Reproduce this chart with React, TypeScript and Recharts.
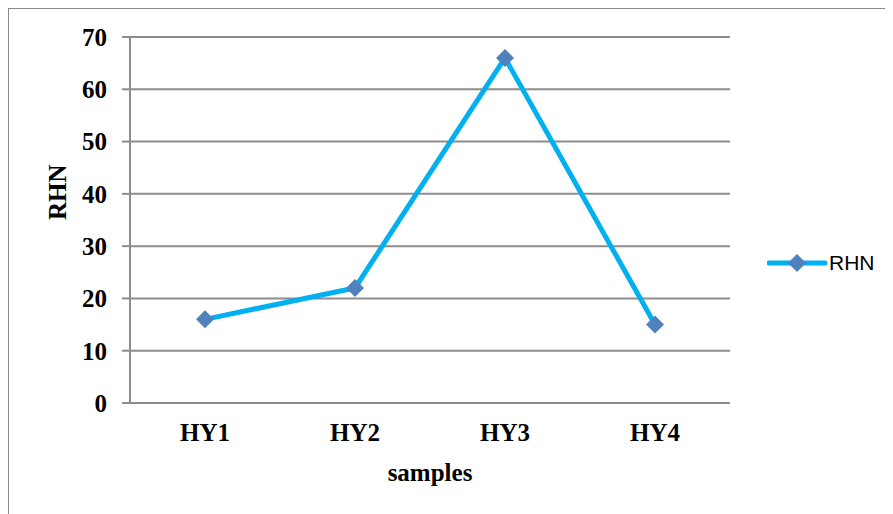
import React from 'react';
import { LineChart, Line, XAxis, YAxis, CartesianGrid } from 'recharts';

const samples = ['HY1', 'HY2', 'HY3', 'HY4'];
const rhnValues = [16, 22, 66, 15];
const yTicks = [0, 10, 20, 30, 40, 50, 60, 70];

const data = samples.map((s, i) => ({ sample: s, RHN: rhnValues[i] }));

const LINE_COLOR = '#00b0f0';
const MARKER_COLOR = '#4f81bd';
const GRID_COLOR = '#8c8c8c';
const serif = '"Liberation Serif", "Times New Roman", serif';

const Diamond = (props: any) => {
    const { cx, cy } = props;
    if (cx == null || cy == null) return null;
    const r = 9;
    return (
        <polygon
            points={`${cx},${cy - r} ${cx + r},${cy} ${cx},${cy + r} ${cx - r},${cy}`}
            fill={MARKER_COLOR}
        />
    );
};

// legend drawn outside the chart so it doesn't eat plot space
const LegendBox = () => (
    <svg width={140} height={30} style={{ position: 'absolute', left: 758, top: 239 }}>
        <line x1={2} y1={15} x2={58} y2={15} stroke={LINE_COLOR} strokeWidth={5} strokeLinecap="round" />
        <polygon points="30,6 39,15 30,24 21,15" fill={MARKER_COLOR} />
        <text x={62} y={22} fontFamily='"Liberation Sans", Arial, sans-serif' fontSize={21} fill="#000">RHN</text>
    </svg>
);

const App: React.FC = () => {
    return (
        <div
            style={{
                width: 885,
                height: 506,
                borderLeft: '1.5px solid #8a8a8a',
                borderTop: '1.5px solid #8a8a8a',
                background: '#fff',
                position: 'relative',
            }}
        >
            <LineChart width={884} height={505} data={data} margin={{ top: 28, right: 163, bottom: 21, left: 0 }}>
                <CartesianGrid vertical={false} stroke={GRID_COLOR} strokeWidth={2} />
                <XAxis
                    dataKey="sample"
                    height={90}
                    padding={{ left: 75, right: 75 }}
                    tickLine={false}
                    axisLine={{ stroke: GRID_COLOR, strokeWidth: 2 }}
                    tickMargin={14}
                    tick={{ fill: '#000', fontSize: 25, fontWeight: 'bold', fontFamily: serif }}
                    label={{ value: 'samples', position: 'insideBottom', offset: 12, fill: '#000', fontSize: 25, fontWeight: 'bold', fontFamily: serif }}
                />
                <YAxis
                    width={121}
                    domain={[0, 70]}
                    ticks={yTicks}
                    tickSize={8}
                    tickMargin={15}
                    tickLine={{ stroke: GRID_COLOR, strokeWidth: 2 }}
                    axisLine={{ stroke: GRID_COLOR, strokeWidth: 2 }}
                    tick={{ fill: '#000', fontSize: 25, fontWeight: 'bold', fontFamily: serif }}
                    label={{ value: 'RHN', angle: -90, position: 'insideLeft', offset: 48, fill: '#000', fontSize: 25, fontWeight: 'bold', fontFamily: serif }}
                />
                <Line
                    type="linear"
                    dataKey="RHN"
                    stroke={LINE_COLOR}
                    strokeWidth={5}
                    dot={<Diamond />}
                    activeDot={false}
                    isAnimationActive={false}
                />
            </LineChart>
            <LegendBox />
        </div>
    );
};

export default App;
